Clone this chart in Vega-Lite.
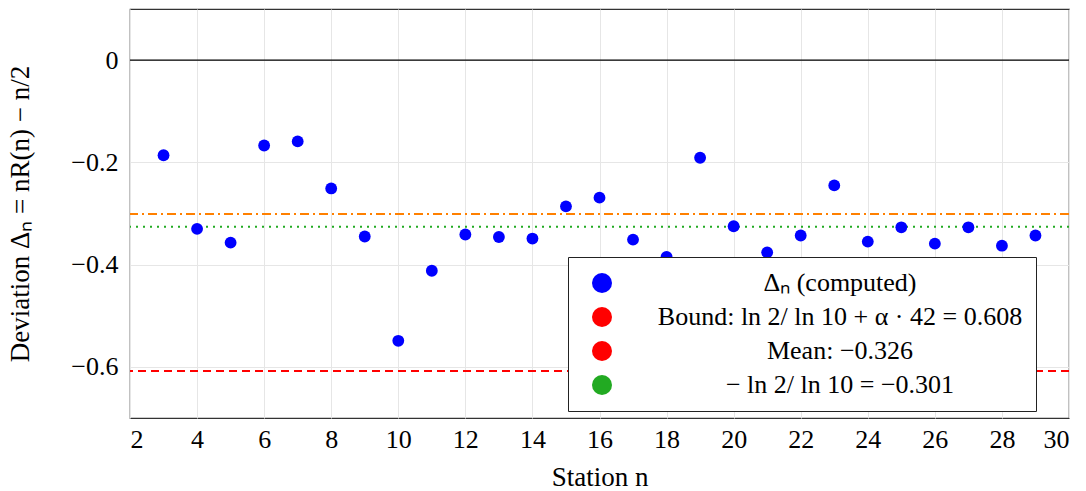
{
  "$schema": "https://vega.github.io/schema/vega-lite/v6.json",
  "autosize": {"type": "none"},
  "padding": {"left": 130, "top": 9, "right": 17, "bottom": 73},
  "width": 939,
  "height": 409,
  "background": "white",
  "config": {
    "view": {"stroke": "#333333", "strokeWidth": 1.2},
    "font": "Liberation Serif",
    "axis": {
      "labelFont": "Liberation Serif",
      "titleFont": "Liberation Serif",
      "labelFontSize": 26,
      "titleFontSize": 27,
      "titleFontWeight": "normal",
      "labelColor": "black",
      "titleColor": "black",
      "gridColor": "#e6e6e6",
      "gridWidth": 1,
      "domain": false,
      "ticks": false
    }
  },
  "datasets": {
    "pts": [
      {"n": 3, "d": -0.186, "series": "Δₙ (computed)"},
      {"n": 4, "d": -0.330, "series": "Δₙ (computed)"},
      {"n": 5, "d": -0.357, "series": "Δₙ (computed)"},
      {"n": 6, "d": -0.167, "series": "Δₙ (computed)"},
      {"n": 7, "d": -0.159, "series": "Δₙ (computed)"},
      {"n": 8, "d": -0.251, "series": "Δₙ (computed)"},
      {"n": 9, "d": -0.345, "series": "Δₙ (computed)"},
      {"n": 10, "d": -0.549, "series": "Δₙ (computed)"},
      {"n": 11, "d": -0.412, "series": "Δₙ (computed)"},
      {"n": 12, "d": -0.341, "series": "Δₙ (computed)"},
      {"n": 13, "d": -0.346, "series": "Δₙ (computed)"},
      {"n": 14, "d": -0.349, "series": "Δₙ (computed)"},
      {"n": 15, "d": -0.286, "series": "Δₙ (computed)"},
      {"n": 16, "d": -0.269, "series": "Δₙ (computed)"},
      {"n": 17, "d": -0.351, "series": "Δₙ (computed)"},
      {"n": 18, "d": -0.385, "series": "Δₙ (computed)"},
      {"n": 19, "d": -0.191, "series": "Δₙ (computed)"},
      {"n": 20, "d": -0.325, "series": "Δₙ (computed)"},
      {"n": 21, "d": -0.376, "series": "Δₙ (computed)"},
      {"n": 22, "d": -0.343, "series": "Δₙ (computed)"},
      {"n": 23, "d": -0.245, "series": "Δₙ (computed)"},
      {"n": 24, "d": -0.355, "series": "Δₙ (computed)"},
      {"n": 25, "d": -0.327, "series": "Δₙ (computed)"},
      {"n": 26, "d": -0.359, "series": "Δₙ (computed)"},
      {"n": 27, "d": -0.327, "series": "Δₙ (computed)"},
      {"n": 28, "d": -0.363, "series": "Δₙ (computed)"},
      {"n": 29, "d": -0.343, "series": "Δₙ (computed)"}
    ]
  },
  "layer": [
    {
      "data": {"values": [{"d": 0}]},
      "mark": {"type": "rule", "color": "black", "strokeWidth": 1.2},
      "encoding": {"y": {"field": "d", "type": "quantitative"}}
    },
    {
      "data": {"values": [{"d": -0.301}]},
      "mark": {"type": "rule", "color": "#ff8000", "strokeWidth": 2, "strokeDash": [9, 4, 2, 4]},
      "encoding": {"y": {"field": "d", "type": "quantitative"}}
    },
    {
      "data": {"values": [{"d": -0.608}]},
      "mark": {"type": "rule", "color": "#ff0000", "strokeWidth": 2, "strokeDash": [8, 5]},
      "encoding": {"y": {"field": "d", "type": "quantitative"}}
    },
    {
      "data": {"values": [{"d": -0.326}]},
      "mark": {"type": "rule", "color": "#22aa22", "strokeWidth": 2, "strokeDash": [2, 5]},
      "encoding": {"y": {"field": "d", "type": "quantitative"}}
    },
    {
      "data": {"name": "pts"},
      "mark": {"type": "point", "filled": true, "size": 140, "opacity": 1},
      "encoding": {
        "x": {
          "field": "n", "type": "quantitative",
          "scale": {"domain": [2, 30], "nice": false, "zero": false},
          "axis": {"orient": "bottom", "values": [2,4,6,8,10,12,14,16,18,20,22,24,26,28,30], "title": "Station n", "labelPadding": 8, "titlePadding": 12, "format": "d"}
        },
        "y": {
          "field": "d", "type": "quantitative",
          "scale": {"domain": [-0.7, 0.1], "nice": false, "zero": false},
          "axis": {"orient": "left", "values": [-0.6, -0.4, -0.2, 0], "format": ".1~f", "title": "Deviation Δₙ = nR(n) − n/2", "labelPadding": 12, "titlePadding": 36}
        },
        "color": {"field": "series", "type": "nominal",
          "scale": {"domain": ["Δₙ (computed)", "Bound: ln 2/ ln 10 + α · 42 = 0.608", "Mean: −0.326", "− ln 2/ ln 10 = −0.301"], "range": ["#0000ff", "#ff0000", "#ff0000", "#22aa22"]},
          "legend": {
            "title": null, "orient": "none", "legendX": 438, "legendY": 248,
            "padding": 13, "fillColor": "white", "strokeColor": "#222222",
            "labelFont": "Liberation Serif", "labelFontSize": 26, "labelColor": "black",
            "labelAlign": "center", "labelOffset": 225, "labelLimit": 600,
            "symbolSize": 400, "symbolOffset": 8, "rowPadding": 8, "zindex": 2,
            "encode": {
              "legend": {"strokeWidth": {"value": 1.2}},
              "symbols": {
                "shape": {"value": {"expr": "indexof(datum.value, 'computed') >= 0 ? 'circle' : 'M-2.2,0H2.2'"}},
                "fill": {"value": {"expr": "indexof(datum.value, 'computed') >= 0 ? '#0000ff' : 'transparent'"}},
                "stroke": {"value": {"expr": "indexof(datum.value, 'computed') >= 0 ? 'transparent' : (indexof(datum.value, '−0.301') >= 0 ? '#22aa22' : '#ff0000')"}},
                "strokeDash": {"value": {"expr": "indexof(datum.value, '−0.301') >= 0 ? [2, 5] : [8, 5]"}},
                "strokeWidth": {"value": 2},
                "size": {"value": {"expr": "indexof(datum.value, 'computed') >= 0 ? 130 : 400"}},
                "opacity": {"value": 1}
              }
            }
          }
        }
      }
    }
  ]
}
